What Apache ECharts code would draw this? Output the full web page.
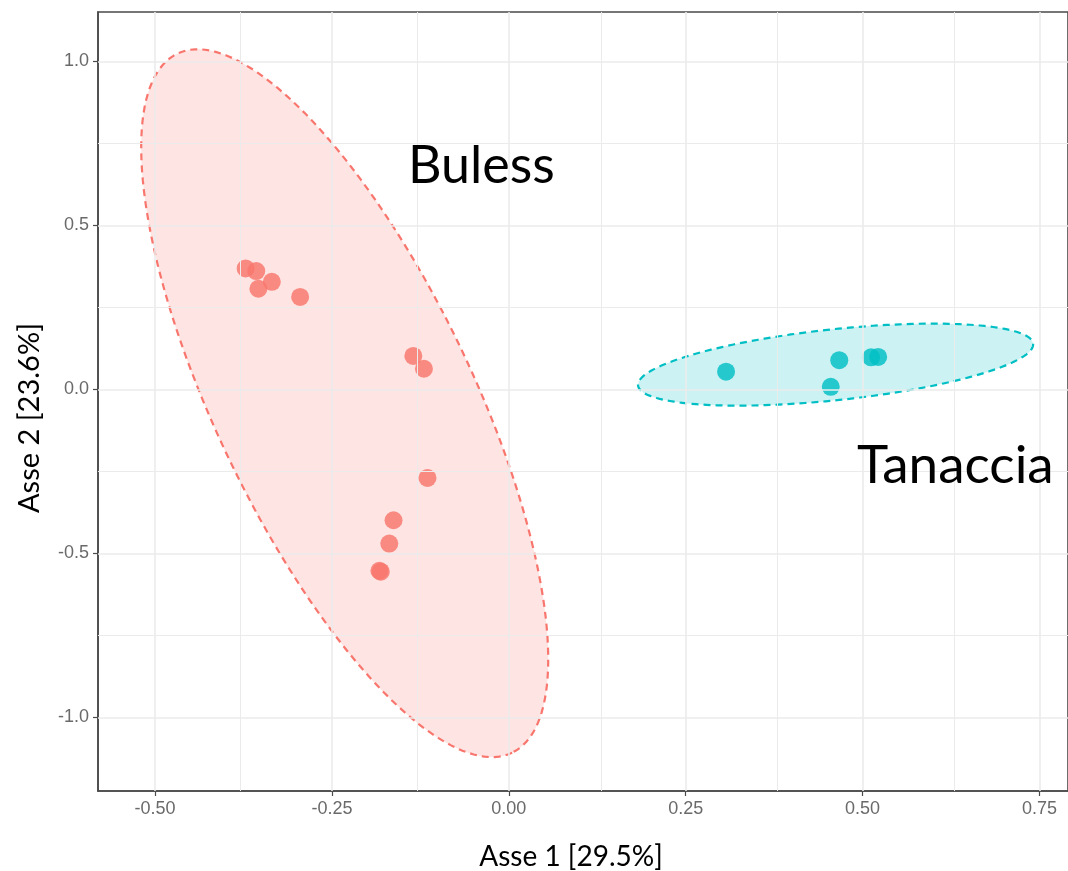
<!DOCTYPE html>
<html>
<head>
<meta charset="utf-8">
<script src="https://cdn.jsdelivr.net/npm/echarts@6/dist/echarts.min.js"></script>
<style>
  html, body { margin: 0; padding: 0; background: #ffffff; }
  #chart { width: 1068px; height: 871px; }
</style>
</head>
<body>
<div id="chart"></div>
<script>
// ---- data ----
const bulessX = [-0.372, -0.357, -0.335, -0.354, -0.295, -0.135, -0.120, -0.115, -0.163, -0.169, -0.181, -0.183];
const bulessY = [0.369, 0.361, 0.328, 0.307, 0.282, 0.102, 0.063, -0.270, -0.399, -0.470, -0.556, -0.553];
const tanacciaX = [0.307, 0.467, 0.455, 0.512, 0.522];
const tanacciaY = [0.054, 0.089, 0.008, 0.098, 0.099];
// ellipses: centre (x, y), first conjugate semi-axis vector (x, y), second conjugate semi-axis vector (x, y)
const bulessEllipse = [-0.232, -0.042, 0.2366, -1.0659, -0.1636, -0.1698];
const tanacciaEllipse = [0.4618, 0.0756, 0.2792, 0.0637, 0.0053, -0.1076];
const xMajorTicks = [-0.5, -0.25, 0, 0.25, 0.5, 0.75];
const xTickLabels = ['-0.50', '-0.25', '0.00', '0.25', '0.50', '0.75'];
const xMinorTicks = [-0.375, -0.125, 0.125, 0.375, 0.625];
const yMajorTicks = [-1, -0.5, 0, 0.5, 1];
const yTickLabels = ['-1.0', '-0.5', '0.0', '0.5', '1.0'];
const yMinorTicks = [-0.75, -0.25, 0.25, 0.75];
const groupNames = ['Buless', 'Tanaccia'];
const xTitle = 'Asse 1 [29.5%]';
const yTitle = 'Asse 2 [23.6%]';

const RED = '#F8766D', TEAL = '#00BFC4';
const chart = echarts.init(document.getElementById('chart'), null, { renderer: 'canvas' });

function zip(xs, ys) { return xs.map((x, i) => [x, ys[i]]); }

function gridLines(vals, axisKey, width) {
  return vals.map(v => ({ [axisKey]: v, lineStyle: { color: '#ebebeb', width: width, type: 'solid' } }));
}

function ellipseRender(params, api) {
  const e = params.seriesIndex === 1 ? bulessEllipse : tanacciaEllipse;
  const color = params.seriesIndex === 1 ? RED : TEAL;
  const pts = [];
  const N = 180;
  for (let i = 0; i < N; i++) {
    const t = 2 * Math.PI * i / N;
    pts.push(api.coord([e[0] + e[2] * Math.cos(t) + e[4] * Math.sin(t),
                        e[1] + e[3] * Math.cos(t) + e[5] * Math.sin(t)]));
  }
  return {
    type: 'polygon',
    shape: { points: pts },
    style: { fill: echarts.color.modifyAlpha(color, 0.2), stroke: color, lineWidth: 2.2, lineDash: [7, 5] }
  };
}

const FONT = 'Lato, "Open Sans", sans-serif';

chart.setOption({
  animation: false,
  backgroundColor: '#ffffff',
  grid: { left: 98, top: 12, right: -2, bottom: 80, show: true, borderColor: '#4a4a4a', borderWidth: 1.6, containLabel: false },
  xAxis: {
    type: 'value', min: -0.5807, max: 0.7903,
    axisLine: { show: true, onZero: false, lineStyle: { color: '#4a4a4a', width: 1.6 } },
    axisTick: { show: true, length: 5, customValues: xMajorTicks, lineStyle: { color: '#4a4a4a', width: 1.2 } },
    axisLabel: { show: true, customValues: xMajorTicks, margin: 9, color: '#6a6a6a', fontSize: 18, fontFamily: '"Liberation Sans", Arial, sans-serif',
      formatter: v => { const i = xMajorTicks.findIndex(t => Math.abs(t - v) < 1e-9); return i >= 0 ? xTickLabels[i] : ''; } },
    splitLine: { show: false }
  },
  yAxis: {
    type: 'value', min: -1.2247, max: 1.151,
    axisLine: { show: true, onZero: false, lineStyle: { color: '#4a4a4a', width: 1.6 } },
    axisTick: { show: true, length: 5, customValues: yMajorTicks, lineStyle: { color: '#4a4a4a', width: 1.2 } },
    axisLabel: { show: true, customValues: yMajorTicks, margin: 9, color: '#6a6a6a', fontSize: 18, fontFamily: '"Liberation Sans", Arial, sans-serif',
      formatter: v => { const i = yMajorTicks.findIndex(t => Math.abs(t - v) < 1e-9); return i >= 0 ? yTickLabels[i] : ''; } },
    splitLine: { show: false }
  },
  series: [
    {
      type: 'scatter', data: [], z: 0, silent: true,
      markLine: {
        silent: true, symbol: ['none', 'none'], label: { show: false }, animation: false,
        data: [].concat(gridLines(xMinorTicks, 'xAxis', 1), gridLines(yMinorTicks, 'yAxis', 1),
                        gridLines(xMajorTicks, 'xAxis', 1.6), gridLines(yMajorTicks, 'yAxis', 1.6))
      }
    },
    { type: 'custom', name: groupNames[0], renderItem: ellipseRender, data: [[bulessEllipse[0], bulessEllipse[1]]], z: 2, silent: true },
    { type: 'custom', name: groupNames[1], renderItem: ellipseRender, data: [[tanacciaEllipse[0], tanacciaEllipse[1]]], z: 2, silent: true },
    { type: 'scatter', name: groupNames[0], data: zip(bulessX, bulessY), symbol: 'circle', symbolSize: 18, z: 3,
      itemStyle: { color: RED, opacity: 0.82 } },
    { type: 'scatter', name: groupNames[1], data: zip(tanacciaX, tanacciaY), symbol: 'circle', symbolSize: 18, z: 3,
      itemStyle: { color: TEAL, opacity: 0.82 } }
  ],
  graphic: [
    { type: 'text', left: 408, top: 140, z: 10, style: { text: groupNames[0], font: '52px ' + FONT, fill: '#000000' } },
    { type: 'text', left: 857, top: 439, z: 10, style: { text: groupNames[1], font: '53px ' + FONT, fill: '#000000' } },
    { type: 'text', x: 571, y: 857, z: 10, style: { text: xTitle, font: '28px ' + FONT, fill: '#000000', align: 'center', verticalAlign: 'middle' } },
    { type: 'text', x: 30, y: 418, rotation: Math.PI / 2, z: 10, style: { text: yTitle, font: '29px ' + FONT, fill: '#000000', align: 'center', verticalAlign: 'middle' } }
  ]
});
</script>
</body>
</html>
